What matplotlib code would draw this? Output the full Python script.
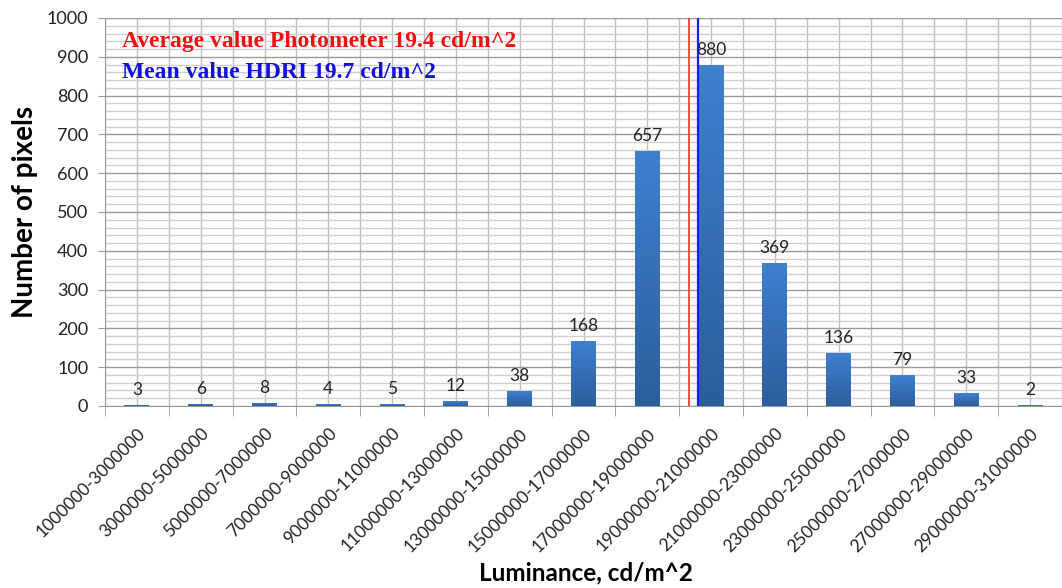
import numpy as np
import matplotlib.pyplot as plt
from matplotlib.ticker import MultipleLocator

categories = ["1000000-3000000", "3000000-5000000", "5000000-7000000",
              "7000000-9000000", "9000000-11000000", "11000000-13000000",
              "13000000-15000000", "15000000-17000000", "17000000-19000000",
              "19000000-21000000", "21000000-23000000", "23000000-25000000",
              "25000000-27000000", "27000000-29000000", "29000000-31000000"]
counts = [3, 6, 8, 4, 5, 12, 38, 168, 657, 880, 369, 136, 79, 33, 2]
photometer_avg = 19.4   # cd/m^2
hdri_mean = 19.7        # cd/m^2

fig = plt.figure(figsize=(10.62, 5.88), dpi=100)
ax = fig.add_axes([105/1062, 1 - 406/588, 1 - 105/1062, 388/588])

x = np.arange(len(categories))
bars = ax.bar(x, counts, width=0.39, color="#3a75bd", zorder=3)

# soft vertical gradient inside each bar
grad = np.linspace(0, 1, 256).reshape(-1, 1)
cmap = plt.matplotlib.colors.LinearSegmentedColormap.from_list("b", ["#2c5e9c", "#3f80cf"])
for b in bars:
    bx, by, bw, bh = b.get_x(), b.get_y(), b.get_width(), b.get_height()
    im = ax.imshow(grad, extent=[bx, bx + bw, by, by + bh], origin="lower",
                   cmap=cmap, aspect="auto", zorder=3)
    im.set_clip_path(b)

for xi, c in zip(x, counts):
    ax.text(xi, c + 18, str(c), ha="center", va="bottom", fontsize=12.5,
            family="Lato", color="#222222", zorder=5)

# mean lines, category i covers (2i+1 .. 2i+3) million
ax.axvline((photometer_avg - 2.1) / 2, color="#ff3b2f", lw=1.3, zorder=4)
ax.axvline((hdri_mean - 2.1) / 2, color="#1a1aff", lw=1.6, zorder=4)
ax.text(0.018, 0.94, "Average value Photometer 19.4 cd/m^2", transform=ax.transAxes,
        color="#ee1111", fontsize=17, fontweight="bold", family="Liberation Serif",
        va="center", zorder=5)
ax.text(0.018, 0.86, "Mean value HDRI 19.7 cd/m^2", transform=ax.transAxes,
        color="#1111dd", fontsize=17, fontweight="bold", family="Liberation Serif",
        va="center", zorder=5)

ax.set_ylim(0, 1000)
ax.set_xlim(-0.5, -0.5 + (1062 - 105) / 64.2)
ax.yaxis.set_major_locator(MultipleLocator(100))
ax.yaxis.set_minor_locator(MultipleLocator(20))
ax.set_xticks(x)
ax.set_xticks(np.arange(-0.5, 15, 1), minor=True)
ax.set_xticklabels(categories, rotation=45, ha="right", rotation_mode="anchor",
                   fontsize=12.5, family="Lato", color="#222222")
ax.tick_params(axis="x", which="major", length=0, pad=14)
ax.tick_params(axis="x", which="minor", length=7, color="#999999")
ax.tick_params(axis="y", which="major", length=5, color="#999999", pad=7)
ax.tick_params(axis="y", which="minor", length=0)
for lab in ax.get_yticklabels():
    lab.set_fontsize(13)
    lab.set_family("Lato")
    lab.set_color("#222222")

ax.grid(axis="y", which="major", color="#9a9a9a", lw=1.0, zorder=0)
ax.grid(axis="y", which="minor", color="#cfcfcf", lw=1.0, zorder=0)
ax.grid(axis="x", which="both", color="#bdbdbd", lw=1.0, zorder=0)
ax.set_axisbelow(True)
for s in ["top", "right"]:
    ax.spines[s].set_visible(False)
for s in ["left", "bottom"]:
    ax.spines[s].set_color("#999999")

ax.set_ylabel("Number of pixels", fontsize=20, fontweight="bold", family="Lato")
ax.yaxis.set_label_coords(-(105 - 25) / 957, 0.5)
ax.set_xlabel("Luminance, cd/m^2", fontsize=17.5, fontweight="bold", family="Lato")
ax.xaxis.set_label_coords((586 - 105) / 957, -(573 - 406) / 388)
ax.xaxis.label.set_va("center")
ax.yaxis.label.set_va("center")

fig.savefig("out.png", dpi=100)
